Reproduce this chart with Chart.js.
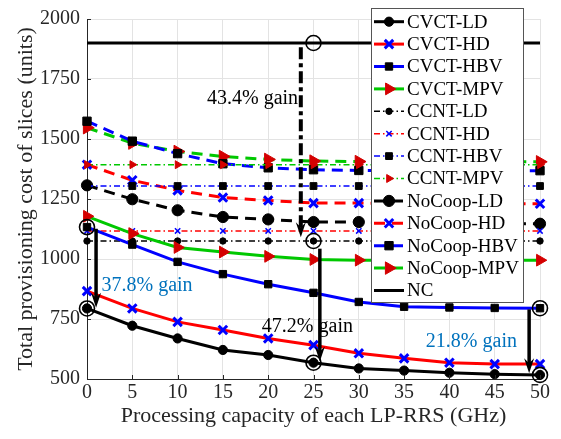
<!DOCTYPE html>
<html>
<head>
<meta charset="utf-8">
<script src="https://cdn.jsdelivr.net/npm/chart.js@4.4.1/dist/chart.umd.min.js"></script>
<style>
  html, body { margin: 0; padding: 0; background: #fff; }
  #wrap { width: 561px; height: 439px; }
</style>
</head>
<body>
<div id="wrap"><canvas id="costChart" width="561" height="439"></canvas></div>
<script>
// processing capacity per LP-RRS (GHz)
const capacity = [0, 5, 10, 15, 20, 25, 30, 35, 40, 45, 50];

// provisioning cost (units)
const cvctLD  = [794, 722, 669, 621, 600, 568, 544, 535, 526, 520, 517];
const cvctHD  = [866, 794, 738, 704, 669, 641, 607, 586, 568, 562, 562];
const cvctHBV = [1133, 1060, 988, 937, 895, 859, 821, 801, 798, 796, 795];
const cvctMPV = [1178, 1106, 1048, 1029, 1011, 998, 995, 995, 995, 995, 995];

const ccntLD  = [1075, 1075, 1075, 1075, 1075, 1075, 1075, 1075, 1075, 1075, 1075];
const ccntHD  = [1117, 1117, 1117, 1117, 1117, 1117, 1117, 1117, 1117, 1117, 1117];
const ccntHBV = [1304, 1304, 1304, 1304, 1304, 1304, 1304, 1304, 1304, 1304, 1304];
const ccntMPV = [1393, 1393, 1393, 1393, 1393, 1393, 1393, 1393, 1393, 1393, 1393];

const noCoopLD  = [1307, 1249, 1203, 1175, 1165, 1154, 1154, 1152, 1150, 1148, 1147];
const noCoopHD  = [1393, 1328, 1286, 1256, 1244, 1233, 1233, 1232, 1231, 1230, 1230];
const noCoopHBV = [1574, 1491, 1439, 1397, 1380, 1372, 1369, 1368, 1368, 1368, 1368];
const noCoopMPV = [1547, 1483, 1448, 1427, 1415, 1408, 1406, 1405, 1405, 1405, 1405];

const ncCost = [1900, 1900, 1900, 1900, 1900, 1900, 1900, 1900, 1900, 1900, 1900];

const yTicks = [500, 750, 1000, 1250, 1500, 1750, 2000];

// circled points that the gain arrows refer to
const ringX = [0, 0, 25, 25, 25, 50, 50];
const ringY = [1133, 794, 1900, 1075, 568, 795, 517];

// gain arrows: x position, start value, tip value
const arrowX    = [23.6, 1.0, 25.7, 48.8];
const arrowFrom = [1882, 1126, 1043, 790];
const arrowTo   = [1091, 797, 573, 524];

const gainText = ['43.4% gain', '37.8% gain', '47.2% gain', '21.8% gain'];

const SERIF = '"Liberation Serif", "Times New Roman", serif';
const BLUE_TXT = '#0072bd';
const GREEN = '#00c800';
const TRI_RED = '#d40000';
const DASH = [11, 7];
const DASHDOT = [6, 3, 1.5, 3];

function series(label, values, line, pt) {
  return {
    label,
    data: capacity.map((c, i) => ({ x: c, y: values[i] })),
    borderColor: line.color,
    borderWidth: line.width,
    borderDash: line.dash || [],
    pointStyle: pt.style || 'circle',
    pointRadius: pt.radius || 0,
    pointRotation: pt.rotation || 0,
    pointBackgroundColor: pt.fill || 'rgba(0,0,0,0)',
    pointBorderColor: pt.stroke || pt.fill || '#000',
    pointBorderWidth: pt.width || 1,
    pointHoverRadius: pt.radius || 0,
    tension: 0,
    fill: false,
    clip: false,
  };
}

const datasets = [
  series('CVCT-LD', cvctLD, { color: '#000', width: 3 }, { radius: 4.6, fill: '#000' }),
  series('CVCT-HD', cvctHD, { color: '#ff0000', width: 3 }, { style: 'crossRot', radius: 6, stroke: '#0000ff', width: 3 }),
  series('CVCT-HBV', cvctHBV, { color: '#0000ff', width: 3 }, { style: 'rect', radius: 5.2, fill: '#000' }),
  series('CVCT-MPV', cvctMPV, { color: GREEN, width: 3 }, { style: 'triangle', rotation: 90, radius: 6.8, fill: TRI_RED }),
  series('CCNT-LD', ccntLD, { color: '#000', width: 1.5, dash: DASHDOT }, { radius: 3.2, fill: '#000' }),
  series('CCNT-HD', ccntHD, { color: '#ff0000', width: 1.5, dash: DASHDOT }, { style: 'crossRot', radius: 3.8, stroke: '#0000ff', width: 1.5 }),
  series('CCNT-HBV', ccntHBV, { color: '#0000ff', width: 1.5, dash: DASHDOT }, { style: 'rect', radius: 4.8, fill: '#000' }),
  series('CCNT-MPV', ccntMPV, { color: GREEN, width: 1.5, dash: DASHDOT }, { style: 'triangle', rotation: 90, radius: 4.6, fill: TRI_RED }),
  series('NoCoop-LD', noCoopLD, { color: '#000', width: 3, dash: DASH }, { radius: 5.6, fill: '#000' }),
  series('NoCoop-HD', noCoopHD, { color: '#ff0000', width: 3, dash: DASH }, { style: 'crossRot', radius: 6, stroke: '#0000ff', width: 3 }),
  series('NoCoop-HBV', noCoopHBV, { color: '#0000ff', width: 3, dash: DASH }, { style: 'rect', radius: 5.9, fill: '#000' }),
  series('NoCoop-MPV', noCoopMPV, { color: GREEN, width: 3, dash: DASH }, { style: 'triangle', rotation: 90, radius: 7.2, fill: TRI_RED }),
  series('NC', ncCost, { color: '#000', width: 3 }, {}),
];
const legendCount = datasets.length;

datasets.push({
  label: 'rings',
  data: ringX.map((x, i) => ({ x, y: ringY[i] })),
  showLine: false,
  pointStyle: 'circle',
  pointRadius: 7.5,
  pointHoverRadius: 7.5,
  pointBackgroundColor: 'rgba(0,0,0,0)',
  pointBorderColor: '#000',
  pointBorderWidth: 1.6,
  order: -1,
  clip: false,
});

// arrows, gain labels and inward ticks
const notesPlugin = {
  id: 'gainNotes',
  afterDatasetsDraw(chart) {
    const { ctx, scales: { x, y }, chartArea: a } = chart;
    ctx.save();
    ctx.strokeStyle = '#262626';
    ctx.lineWidth = 1;
    x.ticks.forEach(t => {
      const px = Math.round(x.getPixelForValue(t.value)) + 0.5;
      ctx.beginPath(); ctx.moveTo(px, a.bottom); ctx.lineTo(px, a.bottom - 4); ctx.stroke();
    });
    y.ticks.forEach(t => {
      const py = Math.round(y.getPixelForValue(t.value)) + 0.5;
      ctx.beginPath(); ctx.moveTo(a.left, py); ctx.lineTo(a.left + 4, py); ctx.stroke();
    });

    arrowX.forEach((ax, i) => {
      const px = x.getPixelForValue(ax);
      const y0 = y.getPixelForValue(arrowFrom[i]);
      const y1 = y.getPixelForValue(arrowTo[i]);
      ctx.strokeStyle = '#000';
      ctx.fillStyle = '#000';
      ctx.lineWidth = i === 0 ? 4 : 3.5;
      ctx.setLineDash(i === 0 ? [12, 4, 4, 4] : []);
      ctx.beginPath();
      ctx.moveTo(px, y0);
      ctx.lineTo(px, y1 - 9);
      ctx.stroke();
      ctx.setLineDash([]);
      ctx.beginPath();
      ctx.moveTo(px, y1);
      ctx.lineTo(px - 5, y1 - 15);
      ctx.lineTo(px, y1 - 10);
      ctx.lineTo(px + 5, y1 - 15);
      ctx.closePath();
      ctx.fill();
    });

    ctx.font = '20px ' + SERIF;
    ctx.textBaseline = 'middle';
    const spots = [
      { x: 23.3, y: 1669, align: 'right', color: '#000' },
      { x: 1.6, y: 887, align: 'left', color: BLUE_TXT },
      { x: 19.3, y: 716, align: 'left', color: '#000' },
      { x: 37.4, y: 654, align: 'left', color: BLUE_TXT },
    ];
    spots.forEach((s, i) => {
      ctx.fillStyle = s.color;
      ctx.textAlign = s.align;
      ctx.fillText(gainText[i], x.getPixelForValue(s.x), y.getPixelForValue(s.y));
    });
    ctx.restore();
  },
  afterDraw(chart) {
    // boxed legend inside the axes, top right
    const ctx = chart.ctx;
    const left = 371, top = 8, w = 152, h = 294, step = 22.4;
    ctx.save();
    ctx.fillStyle = '#fff';
    ctx.fillRect(left, top, w, h);
    ctx.strokeStyle = '#555';
    ctx.lineWidth = 1;
    ctx.strokeRect(left + 0.5, top + 0.5, w, h);
    ctx.font = '19px ' + SERIF;
    ctx.textBaseline = 'middle';
    ctx.textAlign = 'left';
    for (let i = 0; i < legendCount; i++) {
      const ds = chart.data.datasets[i];
      const cy = top + 13.7 + i * step;
      ctx.strokeStyle = ds.borderColor;
      ctx.lineWidth = ds.borderWidth;
      ctx.setLineDash(ds.borderDash);
      ctx.beginPath();
      ctx.moveTo(374, cy);
      ctx.lineTo(404, cy);
      ctx.stroke();
      ctx.setLineDash([]);
      if (ds.pointRadius > 0) {
        ctx.fillStyle = ds.pointBackgroundColor;
        ctx.strokeStyle = ds.pointBorderColor;
        ctx.lineWidth = ds.pointBorderWidth;
        Chart.helpers.drawPoint(ctx, {
          pointStyle: ds.pointStyle,
          rotation: ds.pointRotation,
          radius: ds.pointRadius,
          borderWidth: ds.pointBorderWidth,
        }, 389, cy);
      }
      ctx.fillStyle = '#000';
      ctx.fillText(ds.label, 407, cy + 1);
    }
    ctx.restore();
  },
};

new Chart(document.getElementById('costChart'), {
  type: 'line',
  data: { datasets },
  options: {
    responsive: false,
    animation: false,
    devicePixelRatio: 1,
    layout: { padding: { top: 17, right: 21, left: 0, bottom: 0 } },
    plugins: {
      legend: { display: false },
      tooltip: { enabled: false },
    },
    scales: {
      x: {
        type: 'linear',
        min: 0,
        max: 50,
        afterFit(scale) { scale.height = 60; },
        ticks: {
          stepSize: 5,
          padding: 2,
          color: '#262626',
          font: { family: SERIF, size: 20 },
          callback: v => String(v),
        },
        grid: { color: '#e3e3e3', drawTicks: false },
        border: { color: '#262626', width: 1 },
        title: {
          display: true,
          text: 'Processing capacity of each LP-RRS (GHz)',
          color: '#262626',
          font: { family: SERIF, size: 22 },
          padding: { top: 0, bottom: 10 },
        },
      },
      y: {
        min: 500,
        max: 2000,
        afterFit(scale) { scale.width = 87; },
        afterBuildTicks(scale) { scale.ticks = yTicks.map(v => ({ value: v })); },
        ticks: {
          padding: 7,
          color: '#262626',
          font: { family: SERIF, size: 20 },
          callback: v => String(v),
        },
        grid: { color: '#e3e3e3', drawTicks: false },
        border: { color: '#262626', width: 1 },
        title: {
          display: true,
          text: 'Total provisioning cost of slices (units)',
          color: '#262626',
          font: { family: SERIF, size: 22 },
          padding: { top: 13, bottom: 0 },
        },
      },
    },
  },
  plugins: [notesPlugin],
});
</script>
</body>
</html>
